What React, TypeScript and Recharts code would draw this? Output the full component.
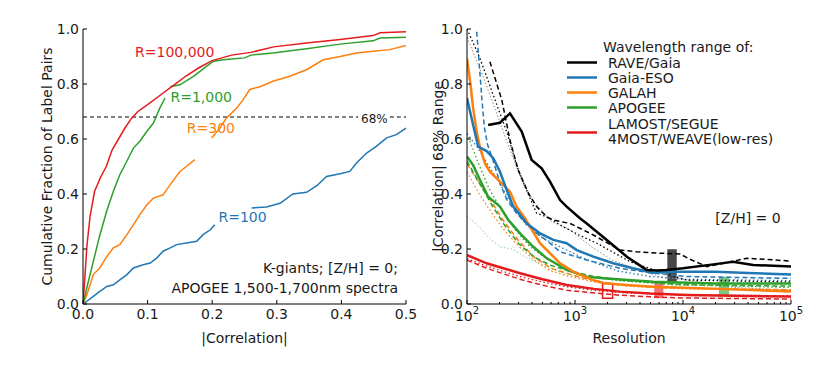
import React from 'react';
import {
  LineChart,
  Line,
  XAxis,
  YAxis,
  ReferenceLine,
  ReferenceArea,
  ReferenceDot,
  Legend,
} from 'recharts';

type Pt = [number, number | null];

const FONT = '"DejaVu Sans", Verdana, sans-serif';
const INK = '#1a1a1a';
const C_RED = '#e41a1c';
const C_GREEN = '#2ca02c';
const C_ORANGE = '#ff7f0e';
const C_BLUE = '#1f77b4';
const C_BLACK = '#000000';
const C_GREY = '#8c8c8c';

// left panel: cumulative fraction of label pairs vs |correlation|
// (null = gap where the curve label sits)
const cdfR100k: Pt[] = [
  [0, 0], [0.003, 0.1], [0.006, 0.21], [0.011, 0.32], [0.018, 0.41], [0.027, 0.46],
  [0.036, 0.5], [0.045, 0.56], [0.055, 0.6], [0.065, 0.64], [0.075, 0.675], [0.085, 0.7],
  [0.1, 0.725], [0.12, 0.76], [0.14, 0.795], [0.16, 0.83], [0.18, 0.86], [0.2, 0.885],
  [0.23, 0.905], [0.26, 0.915], [0.295, 0.935], [0.346, 0.949], [0.398, 0.962],
  [0.449, 0.976], [0.46, 0.986], [0.5, 0.99],
];
const cdfR1000: Pt[] = [
  [0, 0], [0.006, 0.06], [0.016, 0.155], [0.026, 0.25], [0.037, 0.34], [0.047, 0.41],
  [0.057, 0.47], [0.068, 0.52], [0.078, 0.567], [0.088, 0.592], [0.099, 0.628],
  [0.109, 0.658], [0.119, 0.713], [0.127, 0.749], [0.131, null], [0.135, 0.79],
  [0.15, 0.797], [0.171, 0.828], [0.191, 0.864], [0.202, 0.883], [0.217, 0.888],
  [0.25, 0.895], [0.26, 0.905], [0.294, 0.913], [0.346, 0.928], [0.398, 0.945],
  [0.449, 0.957], [0.46, 0.967], [0.5, 0.97],
];
const cdfR300: Pt[] = [
  [0, 0], [0.006, 0.034], [0.016, 0.107], [0.026, 0.131], [0.037, 0.173], [0.047, 0.204],
  [0.057, 0.216], [0.068, 0.252], [0.078, 0.288], [0.088, 0.325], [0.099, 0.361],
  [0.109, 0.385], [0.124, 0.397], [0.135, 0.434], [0.15, 0.482], [0.16, 0.5],
  [0.173, 0.525], [0.185, null], [0.199, 0.604], [0.212, 0.64], [0.222, 0.676],
  [0.238, 0.713], [0.248, 0.743], [0.258, 0.78], [0.274, 0.79], [0.294, 0.81],
  [0.32, 0.828], [0.346, 0.852], [0.372, 0.888], [0.398, 0.9], [0.423, 0.913],
  [0.449, 0.919], [0.475, 0.925], [0.5, 0.94],
];
const cdfR100: Pt[] = [
  [0, 0], [0.006, 0.01], [0.016, 0.028], [0.026, 0.046], [0.037, 0.064], [0.047, 0.07],
  [0.057, 0.088], [0.068, 0.107], [0.078, 0.131], [0.093, 0.143], [0.104, 0.149],
  [0.114, 0.167], [0.124, 0.192], [0.135, 0.204], [0.145, 0.216], [0.16, 0.222],
  [0.176, 0.228], [0.186, 0.252], [0.197, 0.27], [0.204, 0.288], [0.23, null],
  [0.261, 0.349], [0.284, 0.353], [0.305, 0.366], [0.325, 0.4], [0.346, 0.406],
  [0.362, 0.43], [0.377, 0.464], [0.398, 0.474], [0.413, 0.482], [0.423, 0.512],
  [0.439, 0.549], [0.454, 0.573], [0.47, 0.604], [0.485, 0.616], [0.5, 0.64],
];

const corrTicks = [0, 0.1, 0.2, 0.3, 0.4, 0.5];
const fracTicks = [0, 0.2, 0.4, 0.6, 0.8, 1];

// right panel: 68% range of |correlation| vs resolution
const raveSolid: Pt[] = [
  [157, 0.651], [202, 0.659], [250, 0.693], [321, 0.627], [397, 0.524], [491, 0.493],
  [587, 0.445], [727, 0.378], [837, 0.354], [1111, 0.312], [1284, 0.293], [1970, 0.233],
  [3020, 0.172], [4600, 0.124], [5700, 0.122], [7000, 0.124], [10000, 0.13],
  [20000, 0.145], [29000, 0.154], [44700, 0.142], [100000, 0.136],
];
const raveDashed: Pt[] = [
  [163, 0.881], [210, 0.742], [250, 0.596], [298, 0.487], [370, 0.403], [441, 0.354],
  [548, 0.317], [630, 0.305], [900, 0.293], [1480, 0.251], [2600, 0.196], [3700, 0.19],
  [6000, 0.185], [9370, 0.182], [12000, 0.16], [16700, 0.136], [25000, 0.15],
  [38800, 0.166], [60000, 0.162], [100000, 0.156],
];
const raveDotted: Pt[] = [
  [100, 1.0], [132, 0.893], [175, 0.76], [233, 0.627], [288, 0.505], [350, 0.42],
  [441, 0.33], [520, 0.32], [650, 0.3], [780, 0.281], [1100, 0.25], [1590, 0.221],
  [3230, 0.154], [6570, 0.112], [10800, 0.087], [100000, 0.08],
];
const raveFaint: Pt[] = [
  [100, 0.97], [140, 0.83], [190, 0.69], [250, 0.56], [320, 0.45], [420, 0.37],
  [600, 0.3], [900, 0.27], [1400, 0.21], [2200, 0.16], [3500, 0.13], [6000, 0.1],
  [10000, 0.09], [30000, 0.06], [100000, 0.05],
];
const gesSolid: Pt[] = [
  [100, 0.748], [114, 0.651], [127, 0.572], [152, 0.556], [175, 0.53], [202, 0.481],
  [233, 0.415], [268, 0.354], [310, 0.324], [357, 0.293], [474, 0.257], [630, 0.233],
  [837, 0.221], [1040, 0.196], [1480, 0.172], [2260, 0.148], [3450, 0.13], [5300, 0.114],
  [8000, 0.117], [20000, 0.117], [40000, 0.113], [100000, 0.107],
];
const gesDashed: Pt[] = [
  [123, 0.99], [130, 0.87], [137, 0.75], [145, 0.64], [155, 0.58], [175, 0.52],
  [202, 0.44], [233, 0.38], [288, 0.33], [400, 0.27], [550, 0.23], [727, 0.19],
  [1284, 0.16], [2600, 0.13], [5300, 0.112], [10800, 0.1], [100000, 0.093],
];
const gesDotted: Pt[] = [
  [100, 0.62], [127, 0.566], [160, 0.5], [200, 0.44], [260, 0.36], [350, 0.29],
  [500, 0.24], [800, 0.2], [1300, 0.16], [2500, 0.12], [5000, 0.1], [10000, 0.09],
  [100000, 0.085],
];
const galahSolid: Pt[] = [
  [100, 0.893], [107, 0.808], [114, 0.712], [123, 0.627], [132, 0.569], [147, 0.51],
  [163, 0.481], [202, 0.445], [250, 0.408], [288, 0.354], [344, 0.312], [474, 0.221],
  [727, 0.148], [965, 0.118], [1480, 0.087], [1840, 0.075], [5300, 0.063],
  [21900, 0.055], [100000, 0.045],
];
const galahDashed: Pt[] = [
  [100, 0.51], [130, 0.44], [170, 0.37], [220, 0.3], [300, 0.23], [420, 0.17],
  [600, 0.13], [837, 0.112], [1300, 0.09], [2500, 0.07], [6000, 0.06], [20000, 0.055],
  [100000, 0.052],
];
const galahDotted: Pt[] = [
  [100, 0.48], [130, 0.4], [170, 0.33], [220, 0.27], [300, 0.21], [420, 0.16],
  [600, 0.12], [900, 0.1], [1500, 0.08], [3000, 0.065], [10000, 0.055], [100000, 0.05],
];
const apogeeSolid: Pt[] = [
  [100, 0.536], [114, 0.505], [132, 0.451], [157, 0.39], [202, 0.354], [242, 0.305],
  [310, 0.257], [411, 0.208], [548, 0.166], [837, 0.124], [1284, 0.099], [1970, 0.093],
  [5300, 0.081], [20000, 0.075], [100000, 0.075],
];
const apogeeDashed: Pt[] = [
  [100, 0.52], [130, 0.44], [170, 0.36], [220, 0.29], [300, 0.22], [420, 0.17],
  [600, 0.14], [900, 0.12], [1500, 0.1], [3000, 0.085], [10000, 0.07], [100000, 0.065],
];
const apogeeDotted: Pt[] = [
  [100, 0.62], [125, 0.52], [160, 0.42], [210, 0.34], [280, 0.27], [380, 0.21],
  [520, 0.17], [800, 0.13], [1300, 0.1], [2500, 0.085], [8000, 0.07], [100000, 0.06],
];
const apogeeFaint: Pt[] = [
  [100, 0.32], [130, 0.28], [160, 0.24], [202, 0.208], [260, 0.2], [350, 0.17],
  [500, 0.14], [800, 0.11], [1500, 0.085], [4000, 0.065], [20000, 0.055], [100000, 0.05],
];
const lamostSolid: Pt[] = [
  [100, 0.178], [152, 0.148], [217, 0.13], [310, 0.112], [500, 0.09], [837, 0.069],
  [1500, 0.055], [2600, 0.045], [5000, 0.038], [10800, 0.033], [30000, 0.03],
  [100000, 0.027],
];
const lamostDashed: Pt[] = [
  [100, 0.16], [152, 0.13], [217, 0.11], [310, 0.09], [500, 0.068], [837, 0.05],
  [1500, 0.04], [2600, 0.032], [5000, 0.026], [10000, 0.022], [100000, 0.018],
];
const lamostDotted: Pt[] = [
  [100, 0.165], [152, 0.138], [217, 0.118], [310, 0.1], [500, 0.08], [837, 0.062],
  [1500, 0.05], [3000, 0.04], [10000, 0.033], [100000, 0.03],
];

// survey boxes: [R from, R to, range low, range high]
const boxRave = [7160, 8750, 0.075, 0.199];
const boxLamost = [5420, 6580, 0.021, 0.079];
const boxApogee = [21500, 26700, 0.027, 0.099];
const boxLowRes = [1800, 2230, 0.021, 0.075];

const resMajor = [100, 1000, 10000, 100000];
const resMinor = [
  200, 300, 400, 500, 600, 700, 800, 900,
  2000, 3000, 4000, 5000, 6000, 7000, 8000, 9000,
  20000, 30000, 40000, 50000, 60000, 70000, 80000, 90000,
];
const resTicks = [...resMajor, ...resMinor].sort((a, b) => a - b);
const rangeTicks = [0, 0.2, 0.4, 0.6, 0.8, 1];

const keyNames = ['RAVE/Gaia', 'Gaia-ESO', 'GALAH', 'APOGEE'];

const toXY = (pts: Pt[]) => pts.map(([x, y]) => ({ x, y }));

const noTick = () => <g />;

// ticks point inward, drawn by hand so minor/major can differ
const bottomTick = (fmt: (v: number) => React.ReactNode, major?: number[]) => (p: any) => {
  const v = p.payload.value;
  const isMajor = !major || major.includes(v);
  return (
    <g>
      <line x1={p.x} x2={p.x} y1={p.y} y2={p.y - (isMajor ? 4 : 2)} stroke="#000" />
      {isMajor && fmt(v) !== null ? (
        typeof fmt(v) === 'string' ? (
          <text x={p.x} y={p.y + 15} textAnchor="middle" fontSize={14} fill={INK}>
            {fmt(v)}
          </text>
        ) : (
          fmt(v)
        )
      ) : null}
    </g>
  );
};

const logLabel = (x: number, y: number, v: number) => (
  <text x={x} y={y + 17} textAnchor="middle" fontSize={14} fill={INK}>
    10
    <tspan dy={-7} fontSize={10}>
      {Math.round(Math.log10(v))}
    </tspan>
  </text>
);

const logBottomTick = (p: any) => {
  const v = p.payload.value;
  const isMajor = resMajor.includes(v);
  return (
    <g>
      <line x1={p.x} x2={p.x} y1={p.y} y2={p.y - (isMajor ? 4 : 2)} stroke="#000" />
      {isMajor ? logLabel(p.x, p.y, v) : null}
    </g>
  );
};

const logTopTick = (p: any) => {
  const isMajor = resMajor.includes(p.payload.value);
  return <line x1={p.x} x2={p.x} y1={p.y} y2={p.y + (isMajor ? 4 : 2)} stroke="#000" />;
};

const topTick = (p: any) => <line x1={p.x} x2={p.x} y1={p.y} y2={p.y + 4} stroke="#000" />;

const leftTick = (p: any) => (
  <g>
    <line x1={p.x} x2={p.x + 4} y1={p.y} y2={p.y} stroke="#000" />
    <text x={p.x - 4} y={p.y} dy="0.36em" textAnchor="end" fontSize={14} fill={INK}>
      {Number(p.payload.value).toFixed(1)}
    </text>
  </g>
);

const rightTick = (p: any) => <line x1={p.x} x2={p.x - 4} y1={p.y} y2={p.y} stroke="#000" />;

const WavelengthKey = () => (
  <svg width={260} height={120} style={{ fontFamily: FONT, overflow: 'visible' }}>
    <text x={43} y={12} dy="0.36em" fontSize={14} fill={INK}>
      Wavelength range of:
    </text>
    {keyNames.map((name, i) => (
      <g key={name}>
        <line
          x1={7}
          x2={37}
          y1={27.5 + i * 15}
          y2={27.5 + i * 15}
          stroke={[C_BLACK, C_BLUE, C_ORANGE, C_GREEN][i]}
          strokeWidth={2.5}
        />
        <text x={48} y={27.5 + i * 15} dy="0.36em" fontSize={14} fill={INK}>
          {name}
        </text>
      </g>
    ))}
    <line x1={7} x2={37} y1={97.5} y2={97.5} stroke={C_RED} strokeWidth={2.5} />
    <text x={48} y={89} dy="0.36em" fontSize={14} fill={INK}>
      LAMOST/SEGUE
    </text>
    <text x={48} y={104} dy="0.36em" fontSize={14} fill={INK}>
      4MOST/WEAVE(low-res)
    </text>
  </svg>
);

const rightSeries = [
  { id: 'raveFaint', pts: raveFaint, color: C_GREY, w: 1, dash: '1.5 2' },
  { id: 'apogeeFaint', pts: apogeeFaint, color: '#8fd18f', w: 1, dash: '1.5 2' },
  { id: 'galahDotted', pts: galahDotted, color: C_ORANGE, w: 1.3, dash: '1.5 2.5' },
  { id: 'apogeeDotted', pts: apogeeDotted, color: C_GREEN, w: 1.3, dash: '1.5 2.5' },
  { id: 'gesDotted', pts: gesDotted, color: C_BLUE, w: 1.3, dash: '1.5 2.5' },
  { id: 'lamostDotted', pts: lamostDotted, color: C_RED, w: 1.3, dash: '1.5 2.5' },
  { id: 'raveDotted', pts: raveDotted, color: C_BLACK, w: 1.3, dash: '1.5 2.5' },
  { id: 'galahDashed', pts: galahDashed, color: C_ORANGE, w: 1.5, dash: '5 3' },
  { id: 'apogeeDashed', pts: apogeeDashed, color: C_GREEN, w: 1.5, dash: '5 3' },
  { id: 'gesDashed', pts: gesDashed, color: C_BLUE, w: 1.5, dash: '5 3' },
  { id: 'lamostDashed', pts: lamostDashed, color: C_RED, w: 1.5, dash: '5 3' },
  { id: 'raveDashed', pts: raveDashed, color: C_BLACK, w: 1.5, dash: '5 3' },
  { id: 'lamostSolid', pts: lamostSolid, color: C_RED, w: 2.5 },
  { id: 'apogeeSolid', pts: apogeeSolid, color: C_GREEN, w: 2.5 },
  { id: 'galahSolid', pts: galahSolid, color: C_ORANGE, w: 2.5 },
  { id: 'gesSolid', pts: gesSolid, color: C_BLUE, w: 2.5 },
  { id: 'raveSolid', pts: raveSolid, color: C_BLACK, w: 2.5 },
];

const cdfSeries = [
  { id: 'R100', pts: cdfR100, color: C_BLUE },
  { id: 'R300', pts: cdfR300, color: C_ORANGE },
  { id: 'R1000', pts: cdfR1000, color: C_GREEN },
  { id: 'R100k', pts: cdfR100k, color: C_RED },
];

const textDot = (x: number, y: number, value: string, fill: string, size = 14, position: any = 'center') => (
  <ReferenceDot
    key={value}
    x={x}
    y={y}
    r={0}
    fill="none"
    stroke="none"
    ifOverflow="visible"
    label={{ value, position, offset: 0, fill, fontSize: size }}
  />
);

const CorrelationCdf = () => (
  <LineChart width={420} height={374} margin={{ top: 29, right: 14, bottom: 25, left: 23 }}>
    <XAxis
      dataKey="x"
      type="number"
      domain={[0, 0.5]}
      allowDataOverflow
      ticks={corrTicks}
      interval={0}
      height={45}
      stroke="#000"
      tickLine={false}
      tickSize={0}
      tickMargin={0}
      tick={bottomTick((v) => v.toFixed(1))}
      label={{ value: '|Correlation|', position: 'insideBottom', offset: 6, fill: INK, fontSize: 14 }}
    />
    <XAxis
      xAxisId="top"
      orientation="top"
      dataKey="x"
      type="number"
      domain={[0, 0.5]}
      allowDataOverflow
      ticks={corrTicks}
      interval={0}
      height={0}
      stroke="#000"
      tickLine={false}
      tickSize={0}
      tickMargin={0}
      tick={topTick}
    />
    <YAxis
      type="number"
      domain={[0, 1]}
      allowDataOverflow
      ticks={fracTicks}
      interval={0}
      width={60}
      stroke="#000"
      tickLine={false}
      tickSize={0}
      tickMargin={0}
      tick={leftTick}
      label={{
        value: 'Cumulative Fraction of Label Pairs',
        angle: -90,
        position: 'insideLeft',
        offset: 24,
        fill: INK,
        fontSize: 14,
        style: { textAnchor: 'middle' },
      }}
    />
    <YAxis
      yAxisId="right"
      orientation="right"
      type="number"
      domain={[0, 1]}
      allowDataOverflow
      ticks={fracTicks}
      interval={0}
      width={0}
      stroke="#000"
      tickLine={false}
      tickSize={0}
      tickMargin={0}
      tick={rightTick}
    />
    <ReferenceLine
      segment={[{ x: 0, y: 0.68 }, { x: 0.426, y: 0.68 }]}
      stroke="#000"
      strokeDasharray="4 3"
      strokeWidth={1}
    />
    <ReferenceLine
      segment={[{ x: 0.475, y: 0.68 }, { x: 0.5, y: 0.68 }]}
      stroke="#000"
      strokeDasharray="4 3"
      strokeWidth={1}
    />
    {cdfSeries.map((s) => (
      <Line
        key={s.id}
        data={toXY(s.pts)}
        dataKey="y"
        type="linear"
        stroke={s.color}
        strokeWidth={1.5}
        dot={false}
        activeDot={false}
        isAnimationActive={false}
      />
    ))}
    {textDot(0.142, 0.916, 'R=100,000', C_RED)}
    {textDot(0.183, 0.754, 'R=1,000', C_GREEN)}
    {textDot(0.198, 0.64, 'R=300', C_ORANGE)}
    {textDot(0.247, 0.316, 'R=100', C_BLUE)}
    {textDot(0.451, 0.672, '68%', INK, 12)}
    {textDot(0.4876, 0.131, 'K-giants; [Z/H] = 0;', INK, 14, 'left')}
    {textDot(0.4876, 0.058, 'APOGEE 1,500-1,700nm spectra', INK, 14, 'left')}
  </LineChart>
);

const ResolutionRange = () => (
  <LineChart width={410} height={374} margin={{ top: 29, right: 39, bottom: 25, left: 7 }}>
    <XAxis
      dataKey="x"
      type="number"
      scale="log"
      domain={[100, 100000]}
      allowDataOverflow
      ticks={resTicks}
      interval={0}
      height={45}
      stroke="#000"
      tickLine={false}
      tickSize={0}
      tickMargin={0}
      tick={logBottomTick}
      label={{ value: 'Resolution', position: 'insideBottom', offset: 6, fill: INK, fontSize: 14 }}
    />
    <XAxis
      xAxisId="top"
      orientation="top"
      dataKey="x"
      type="number"
      scale="log"
      domain={[100, 100000]}
      allowDataOverflow
      ticks={resTicks}
      interval={0}
      height={0}
      stroke="#000"
      tickLine={false}
      tickSize={0}
      tickMargin={0}
      tick={logTopTick}
    />
    <YAxis
      type="number"
      domain={[0, 1]}
      allowDataOverflow
      ticks={rangeTicks}
      interval={0}
      width={40}
      stroke="#000"
      tickLine={false}
      tickSize={0}
      tickMargin={0}
      tick={leftTick}
      label={{
        value: '|Correlation| 68% Range',
        angle: -90,
        position: 'insideLeft',
        offset: 11,
        fill: INK,
        fontSize: 14,
        style: { textAnchor: 'middle' },
      }}
    />
    <YAxis
      yAxisId="right"
      orientation="right"
      type="number"
      domain={[0, 1]}
      allowDataOverflow
      ticks={rangeTicks}
      interval={0}
      width={0}
      stroke="#000"
      tickLine={false}
      tickSize={0}
      tickMargin={0}
      tick={rightTick}
    />
    {rightSeries.map((s) => (
      <Line
        key={s.id}
        data={toXY(s.pts)}
        dataKey="y"
        type="linear"
        stroke={s.color}
        strokeWidth={s.w}
        strokeDasharray={s.dash}
        dot={false}
        activeDot={false}
        isAnimationActive={false}
      />
    ))}
    <ReferenceArea
      x1={boxRave[0]}
      x2={boxRave[1]}
      y1={boxRave[2]}
      y2={boxRave[3]}
      fill="#333333"
      fillOpacity={0.9}
      stroke="none"
    />
    <ReferenceArea
      x1={boxLamost[0]}
      x2={boxLamost[1]}
      y1={boxLamost[2]}
      y2={boxLamost[3]}
      fill={C_RED}
      fillOpacity={0.6}
      stroke="none"
    />
    <ReferenceArea
      x1={boxApogee[0]}
      x2={boxApogee[1]}
      y1={boxApogee[2]}
      y2={boxApogee[3]}
      fill={C_GREEN}
      fillOpacity={0.6}
      stroke="none"
    />
    <ReferenceArea
      x1={boxLowRes[0]}
      x2={boxLowRes[1]}
      y1={boxLowRes[2]}
      y2={boxLowRes[3]}
      fill="none"
      fillOpacity={0}
      stroke={C_RED}
      strokeWidth={1.5}
    />
    {textDot(40000, 0.313, '[Z/H] = 0', INK)}
    <Legend
      layout="vertical"
      align="center"
      verticalAlign="middle"
      wrapperStyle={{ left: 140, top: 35, width: 260, height: 120 }}
      content={() => <WavelengthKey />}
    />
  </LineChart>
);

export default function App() {
  return (
    <div
      style={{
        position: 'absolute',
        left: 0,
        top: 0,
        width: 830,
        height: 374,
        background: '#fff',
        fontFamily: FONT,
      }}
    >
      <div style={{ position: 'absolute', left: 0, top: 0 }}>
        <CorrelationCdf />
      </div>
      <div style={{ position: 'absolute', left: 420, top: 0 }}>
        <ResolutionRange />
      </div>
    </div>
  );
}
